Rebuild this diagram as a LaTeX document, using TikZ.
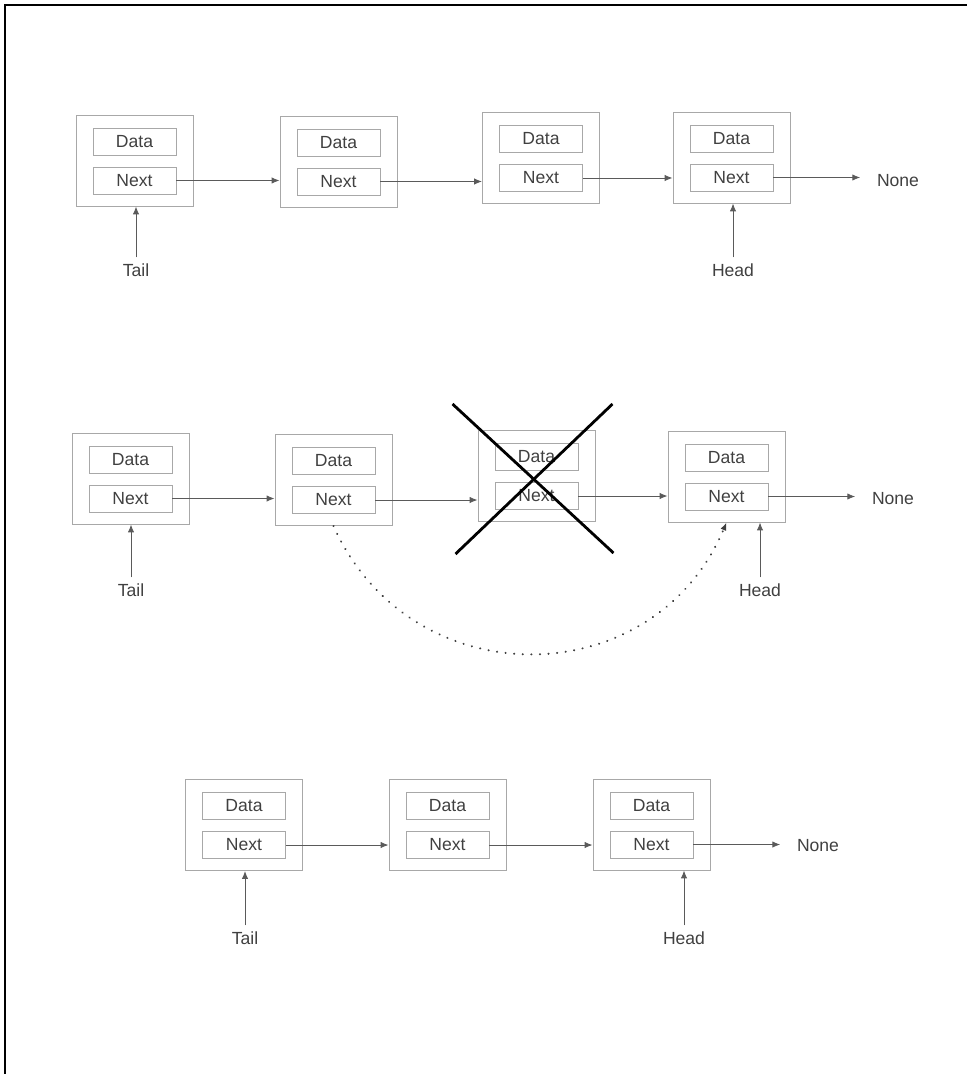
\documentclass[tikz,border=0pt]{standalone}
\usepackage{fontspec}
\setmainfont{Liberation Sans}
\usetikzlibrary{arrows.meta}

\definecolor{boxgray}{HTML}{A8A8A8}
\definecolor{linegray}{HTML}{5A5A5A}
\definecolor{textgray}{HTML}{404040}

\begin{document}
\begin{tikzpicture}[x=0.02cm, y=-0.02cm, >={Latex[length=4.5pt,width=3.6pt]},
    listbox/.style={draw=boxgray, line width=0.55pt, minimum width=2.34cm, minimum height=1.82cm, inner sep=0pt},
    field/.style={draw=boxgray, line width=0.55pt, minimum width=1.66cm, minimum height=0.54cm, inner sep=0pt, text=textgray, font=\fontsize{10}{12}\selectfont},
    lbl/.style={text=textgray, font=\fontsize{10}{12}\selectfont},
    ptr/.style={->, draw=linegray, line width=0.5pt},
    cell/.pic={
        \node[listbox] (-box) at (0,0) {};
        \node[field] (-d) at (0,-19) {Data};
        \node[field] (-n) at (0,20) {Next};
    }]
    \useasboundingbox (0,0) rectangle (967,1074);
    \draw[line width=1.7pt] (5,1074) -- (5,5) -- (967,5);

    % Before: four nodes
    \pic (a1) at (134.5,160.5) {cell};
    \pic (a2) at (338.5,161.5) {cell};
    \pic (a3) at (541,158) {cell};
    \pic (a4) at (731.5,157.5) {cell};
    \node[lbl] (anone) at (898,181) {None};
    \node[lbl] (atail) at (136,270) {Tail};
    \node[lbl] (ahead) at (733,270) {Head};
    \draw[ptr] (a1-n.east) -- (a1-n.east -| a2-box.west);
    \draw[ptr] (a2-n.east) -- (a2-n.east -| a3-box.west);
    \draw[ptr] (a3-n.east) -- (a3-n.east -| a4-box.west);
    \draw[ptr, shorten >=6pt] (a4-n.east) -- (a4-n.east -| anone.west);
    \draw[ptr] (atail.north) -- (atail.north |- a1-box.south);
    \draw[ptr] (ahead.north) -- (ahead.north |- a4-box.south);

    % Removing the third node
    \pic (b1) at (130.5,478.5) {cell};
    \pic (b2) at (333.5,480) {cell};
    \pic (b3) at (536.5,476) {cell};
    \pic (b4) at (726.5,476.5) {cell};
    \node[lbl] (bnone) at (893,499) {None};
    \node[lbl] (btail) at (131,590) {Tail};
    \node[lbl] (bhead) at (760,590) {Head};
    \draw[ptr] (b1-n.east) -- (b1-n.east -| b2-box.west);
    \draw[ptr] (b2-n.east) -- (b2-n.east -| b3-box.west);
    \draw[ptr] (b3-n.east) -- (b3-n.east -| b4-box.west);
    \draw[ptr, shorten >=6pt] (b4-n.east) -- (b4-n.east -| bnone.west);
    \draw[ptr] (btail.north) -- (btail.north |- b1-box.south);
    \draw[ptr] (bhead.north) -- (bhead.north |- b4-box.south);
    \draw[ptr, draw=black!75, line width=1.2pt, line cap=round, dash pattern=on 0.1pt off 4.8pt] (b2-box.south) .. controls +(77,172) and +(-73,173) .. (b4-box.south);
    \draw[line width=1.6pt] ([shift={(-84,-72)}]b3-box.center) -- ([shift={(77,77)}]b3-box.center);
    \draw[line width=1.6pt] ([shift={(76,-72)}]b3-box.center) -- ([shift={(-81,78)}]b3-box.center);

    % After: three nodes
    \pic (c1) at (244,825) {cell};
    \pic (c2) at (447.5,825) {cell};
    \pic (c3) at (651.5,824.5) {cell};
    \node[lbl] (cnone) at (818,846) {None};
    \node[lbl] (ctail) at (245,938) {Tail};
    \node[lbl] (chead) at (684,938) {Head};
    \draw[ptr] (c1-n.east) -- (c1-n.east -| c2-box.west);
    \draw[ptr] (c2-n.east) -- (c2-n.east -| c3-box.west);
    \draw[ptr, shorten >=6pt] (c3-n.east) -- (c3-n.east -| cnone.west);
    \draw[ptr] (ctail.north) -- (ctail.north |- c1-box.south);
    \draw[ptr] (chead.north) -- (chead.north |- c3-box.south);
\end{tikzpicture}
\end{document}
